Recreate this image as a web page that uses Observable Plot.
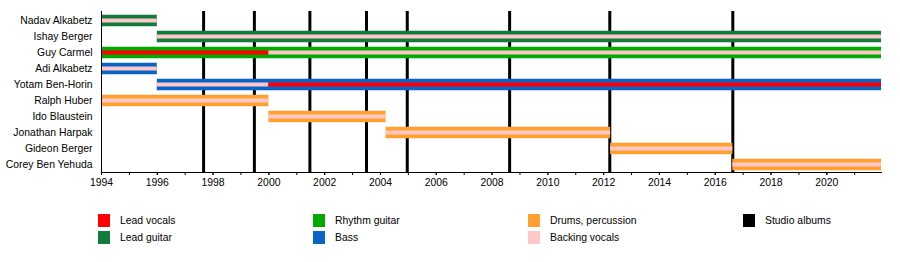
<!DOCTYPE html>
<html>
<head>
<meta charset="utf-8">
<script src="https://cdn.jsdelivr.net/npm/d3@7"></script>
<script src="https://cdn.jsdelivr.net/npm/@observablehq/plot@0.6"></script>
<style>
  html, body { margin: 0; padding: 0; background: #fff; }
  #wrap { position: relative; width: 900px; height: 262px; font-family: "Liberation Sans", Arial, sans-serif; }
  #legend { position: absolute; left: 0; top: 200px; width: 900px; height: 62px; }
  .sw { position: absolute; width: 12px; height: 13px; }
  .lt { position: absolute; font-size: 10.4px; line-height: 13px; color: #000; white-space: nowrap; }
</style>
</head>
<body>
<div id="wrap"><div id="chart"></div><div id="legend"></div></div>
<script>
// ---- data ----
const members = ["Nadav Alkabetz", "Ishay Berger", "Guy Carmel", "Adi Alkabetz", "Yotam Ben-Horin",
  "Ralph Huber", "Ido Blaustein", "Jonathan Harpak", "Gideon Berger", "Corey Ben Yehuda"];
const roleNames = ["Lead vocals", "Lead guitar", "Rhythm guitar", "Bass", "Drums, percussion", "Backing vocals", "Studio albums"];
const roleColors = ["#ff0000", "#127a3c", "#00aa00", "#0a64c8", "#ffa030", "#ffc8c8", "#000000"];
const startYear = 1994;
const endYear = 2021.96;
const tickYears = d3.range(1994, 2022);
const labelYears = d3.range(1994, 2022, 2);
const albumYears = [1997.66, 1999.48, 2001.47, 2003.5, 2004.96, 2008.63, 2012.22, 2016.63];

// main (instrument) bars
const barMember = ["Nadav Alkabetz", "Ishay Berger", "Guy Carmel", "Adi Alkabetz", "Yotam Ben-Horin",
  "Ralph Huber", "Ido Blaustein", "Jonathan Harpak", "Gideon Berger", "Corey Ben Yehuda"];
const barRole = ["Lead guitar", "Lead guitar", "Rhythm guitar", "Bass", "Bass",
  "Drums, percussion", "Drums, percussion", "Drums, percussion", "Drums, percussion", "Drums, percussion"];
const barStart = [1994, 1996, 1994, 1994, 1996, 1994, 2000, 2004.2, 2012.25, 2016.63];
const barEnd = [1996, endYear, endYear, 1996, endYear, 2000, 2004.2, 2012.25, 2016.63, endYear];

// inner (vocal) bands
const vocMember = ["Nadav Alkabetz", "Ishay Berger", "Guy Carmel", "Guy Carmel", "Adi Alkabetz",
  "Yotam Ben-Horin", "Yotam Ben-Horin", "Ralph Huber", "Ido Blaustein", "Jonathan Harpak", "Gideon Berger", "Corey Ben Yehuda"];
const vocRole = ["Backing vocals", "Backing vocals", "Lead vocals", "Backing vocals", "Backing vocals",
  "Backing vocals", "Lead vocals", "Backing vocals", "Backing vocals", "Backing vocals", "Backing vocals", "Backing vocals"];
const vocStart = [1994, 1996, 1994, 2000, 1994, 1996, 2000, 1994, 2000, 2004.2, 2012.25, 2016.63];
const vocEnd = [1996, endYear, 2000, endYear, 1996, 2000, endYear, 2000, 2004.2, 2012.25, 2016.63, endYear];

// legend layout (columns of role indices)
const legendColumns = [[0, 1], [2, 3], [4, 5], [6]];

// ---- build tables ----
const colorOf = Object.fromEntries(roleNames.map((r, i) => [r, roleColors[i]]));
const bars = barMember.map((m, i) => ({member: m, role: barRole[i], start: barStart[i], end: barEnd[i]}));
const vocals = vocMember.map((m, i) => ({member: m, role: vocRole[i], start: vocStart[i], end: vocEnd[i]}));

const chart = Plot.plot({
  width: 900,
  height: 200,
  marginLeft: 101,
  marginRight: 19,
  marginTop: 11,
  marginBottom: 28,
  style: {fontFamily: '"Liberation Sans", Arial, sans-serif', fontSize: "10.4px", color: "#000", background: "#fff"},
  x: {domain: [startYear, endYear], axis: null},
  y: {type: "point", domain: members, range: [17, 167], padding: 0, axis: null},
  color: {domain: roleNames, range: roleColors},
  marks: [
    Plot.ruleX(albumYears, {x: d => d, stroke: "#000", strokeWidth: 3}),
    Plot.ruleY(bars, {y: "member", x1: "start", x2: "end", stroke: d => colorOf[d.role], strokeWidth: 11.5}),
    Plot.ruleY(vocals, {y: "member", x1: "start", x2: "end", stroke: d => colorOf[d.role], strokeWidth: 4}),
    Plot.frame({anchor: "left", stroke: "#000"}),
    Plot.frame({anchor: "bottom", stroke: "#000"}),
    Plot.axisY({tickSize: 0, tickPadding: 9, label: null, fill: "#000"}),
    Plot.axisX({ticks: tickYears, tickSize: 3, tickFormat: () => "", label: null, stroke: "#000"}),
    Plot.axisX({ticks: labelYears, tickSize: 3, tickPadding: 3, tickFormat: d => String(d), label: null, fill: "#000", stroke: "#000"})
  ]
});
document.getElementById("chart").appendChild(chart);

// ---- legend ----
const legend = document.getElementById("legend");
const colX = [98, 313, 528, 743];
const rowY = [14, 31];
legendColumns.forEach((col, ci) => {
  col.forEach((ri, k) => {
    const sw = document.createElement("div");
    sw.className = "sw";
    sw.style.left = colX[ci] + "px";
    sw.style.top = rowY[k] + "px";
    sw.style.background = roleColors[ri];
    legend.appendChild(sw);
    const t = document.createElement("div");
    t.className = "lt";
    t.style.left = (colX[ci] + 22) + "px";
    t.style.top = rowY[k] + "px";
    t.textContent = roleNames[ri];
    legend.appendChild(t);
  });
});
</script>
</body>
</html>
